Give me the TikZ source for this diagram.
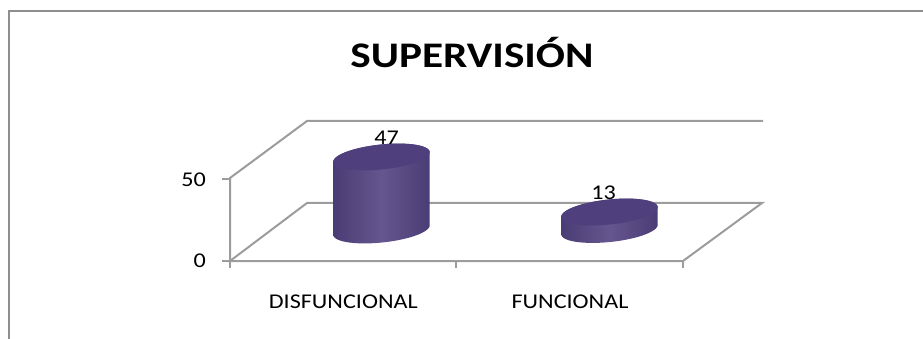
\documentclass[tikz,border=0pt]{standalone}
\usepackage{fontspec}
\setmainfont{Carlito}
\definecolor{framegray}{HTML}{8E8E8E}
\definecolor{gridgray}{HTML}{9C9C9C}
\definecolor{cyldark}{HTML}{4A3C74}
\definecolor{cyllight}{HTML}{66568F}
\definecolor{cyltop}{HTML}{4F407D}
\tikzset{
  gridline/.style={draw=gridgray, line width=2pt},
  axislabel/.style={font=\fontsize{21}{25}\selectfont, xscale=1.15, inner sep=0pt},
}
\begin{document}
\begin{tikzpicture}[x=1pt, y=-1pt]
      \useasboundingbox (0,0) rectangle (923,339);
      % outer frame
      \draw[framegray, line width=2pt] (8.5,339) -- (8.5,11) -- (923,11);
      \node[font=\bfseries\fontsize{36}{40}\selectfont, xscale=1.2, anchor=base, inner sep=0pt]
        (title) at (472,68) {SUPERVISIÓN};
      % walls and floor
      \coordinate (frontlow) at (230,261);
      \coordinate (fronthigh) at (230,178);
      \coordinate (backlow) at (307,203);
      \coordinate (backhigh) at (307,121);
      \coordinate (rightback) at (762,203);
      \coordinate (rightfront) at (683,261);
      \draw[gridline] (frontlow) -- (fronthigh) -- (backhigh) -- (763,121);
      \draw[gridline] (frontlow) -- (backlow) -- (rightback) -- (rightfront) -- cycle;
      \foreach \x in {230, 456, 683}{
        \draw[gridline] (\x,261) -- (\x,268);
      }
      \foreach \y in {179, 261}{
        \draw[gridline] (222,\y) -- (230,\y);
      }
      % cylinders: centre x / top y / bottom y
      \foreach \cx/\ct/\cb in {%
        381.5/157/230,
        609.5/212/229.5
      }{
        \shade[left color=cyldark, right color=cyldark, middle color=cyllight]
          plot[domain=180:0, samples=40, variable=\t]
            ({\cx+48.5*cos(\t)*cos(6)+12.5*sin(\t)*sin(6)}, {\cb-48.5*cos(\t)*sin(6)+12.5*sin(\t)*cos(6)})
          -- plot[domain=0:-180, samples=40, variable=\t]
            ({\cx+48.5*cos(\t)*cos(6)+12.5*sin(\t)*sin(6)}, {\ct-48.5*cos(\t)*sin(6)+12.5*sin(\t)*cos(6)})
          -- cycle;
        \fill[cyltop]
          plot[domain=0:360, samples=72, variable=\t]
            ({\cx+48.5*cos(\t)*cos(6)+12.5*sin(\t)*sin(6)}, {\ct-48.5*cos(\t)*sin(6)+12.5*sin(\t)*cos(6)})
          -- cycle;
      }
      % labels
      \node[axislabel, anchor=base east] (yfifty) at (206,187) {50};
      \node[axislabel, anchor=base east] (yzero) at (206,267) {0};
      \node[axislabel, anchor=base] (valdis) at (386.5,145) {47};
      \node[axislabel, anchor=base] (valfun) at (603.5,200) {13};
      \node[axislabel, anchor=base] (catdis) at (343.3,308.3) {DISFUNCIONAL};
      \node[axislabel, anchor=base] (catfun) at (570,308.3) {FUNCIONAL};
    \end{tikzpicture}
\end{document}
